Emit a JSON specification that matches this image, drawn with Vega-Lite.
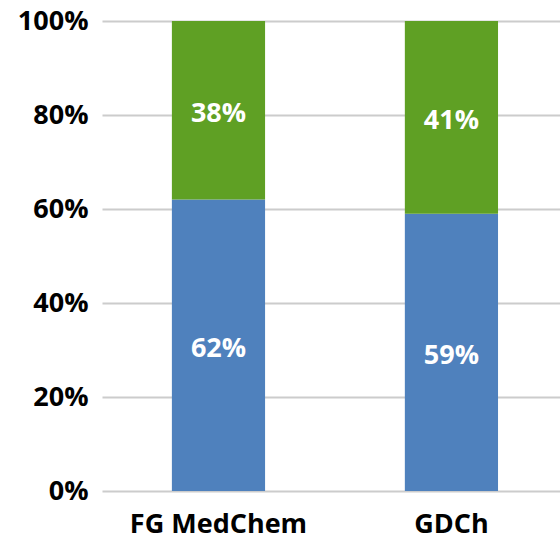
{
  "$schema": "https://vega.github.io/schema/vega-lite/v6.json",
  "width": 458,
  "height": 470,
  "autosize": {"type": "none"},
  "padding": {"left": 102, "top": 21, "right": 0, "bottom": 47},
  "background": "white",
  "config": {
    "view": {"stroke": null},
    "font": "Open Sans"
  },
  "data": {
    "values": [
      {"group": "FG MedChem", "segment": "lower", "order": 1, "value": 0.62},
      {"group": "FG MedChem", "segment": "upper", "order": 2, "value": 0.38},
      {"group": "GDCh", "segment": "lower", "order": 1, "value": 0.59},
      {"group": "GDCh", "segment": "upper", "order": 2, "value": 0.41}
    ]
  },
  "encoding": {
    "x": {
      "field": "group",
      "type": "nominal",
      "sort": ["FG MedChem", "GDCh"],
      "scale": {"paddingInner": 0.6, "paddingOuter": 0.283, "align": 0.53},
      "axis": {
        "title": null,
        "domain": false,
        "ticks": false,
        "labelAngle": 0,
        "labelFont": "Open Sans",
        "labelFontWeight": "bold",
        "labelFontSize": 27,
        "labelColor": "#000000",
        "labelPadding": 20
      }
    },
    "y": {
      "field": "value",
      "type": "quantitative",
      "stack": "zero",
      "scale": {"domain": [0, 1], "nice": false},
      "axis": {
        "title": null,
        "format": ".0%",
        "values": [0, 0.2, 0.4, 0.6, 0.8, 1],
        "domain": false,
        "ticks": false,
        "grid": true,
        "gridColor": "#CCCCCC",
        "gridWidth": 2,
        "labelFont": "Open Sans",
        "labelFontWeight": "bold",
        "labelFontSize": 27,
        "labelColor": "#000000",
        "labelPadding": 14
      }
    },
    "order": {"field": "order", "type": "quantitative"}
  },
  "layer": [
    {
      "mark": {"type": "bar"},
      "encoding": {
        "color": {
          "field": "segment",
          "type": "nominal",
          "scale": {"domain": ["lower", "upper"], "range": ["#4F81BD", "#5FA024"]},
          "legend": null
        }
      }
    },
    {
      "mark": {"type": "text", "color": "white", "font": "Open Sans", "fontWeight": "bold", "fontSize": 27, "baseline": "middle", "dy": 4},
      "encoding": {
        "y": {"field": "value", "type": "quantitative", "stack": "zero", "bandPosition": 0.5},
        "text": {"field": "value", "type": "quantitative", "format": ".0%"}
      }
    }
  ]
}
